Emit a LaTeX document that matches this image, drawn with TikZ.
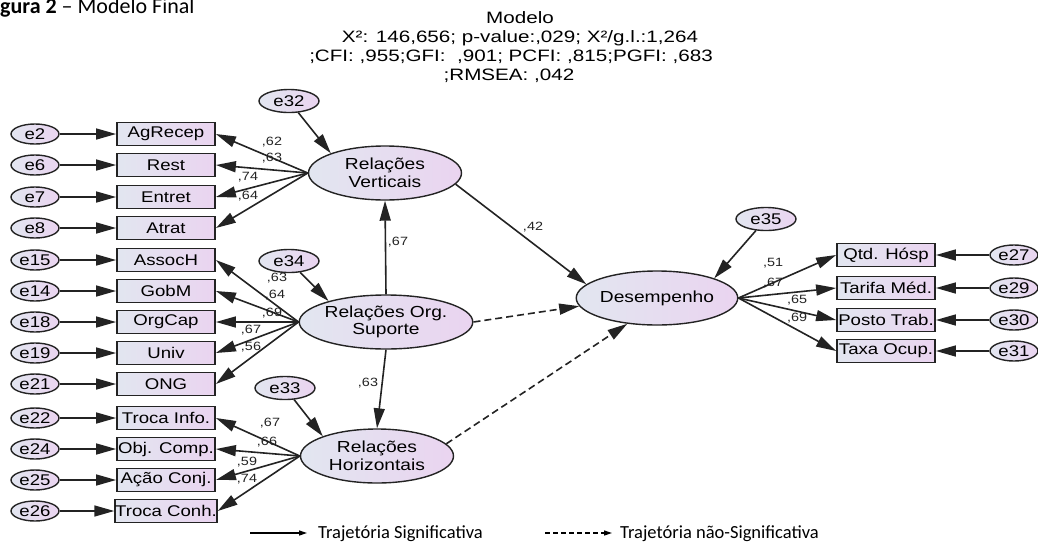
\documentclass[tikz,border=0pt]{standalone}
\usepackage{graphicx}
\usepackage{fontspec}
\setmainfont{Liberation Sans}
\newfontfamily\carl{Carlito}
\usetikzlibrary{arrows.meta,shapes.geometric}
\newcommand\hs[1]{\scalebox{1.2}[1]{#1}}
\newcommand\hh[1]{\scalebox{1.25}[1]{#1}}
\definecolor{lc}{RGB}{226,230,240}
\definecolor{rc}{RGB}{234,212,240}
\definecolor{bd}{RGB}{35,35,35}
\tikzset{
  shd/.style={left color=lc,right color=rc,draw=bd,line width=1.4pt},
  ebox/.style={shd,ellipse,minimum width=48pt,minimum height=20pt,inner sep=0pt,font=\fontsize{15.5}{17}\selectfont},
  bige/.style={ebox,minimum width=60pt,minimum height=23pt},
  obs/.style={shd,rectangle,minimum width=98pt,minimum height=23pt,inner sep=0pt,line width=1.8pt,font=\fontsize{15.5}{17}\selectfont},
  lat/.style={shd,ellipse,minimum width=153pt,minimum height=54pt,inner sep=0pt,align=center,font=\fontsize{16}{17.5}\selectfont},
  arr/.style={-{Triangle[length=20pt,width=11pt]},line width=1.6pt,draw=bd},
  darr/.style={arr,dash pattern=on 7pt off 4pt},
  coef/.style={font=\fontsize{12}{12}\selectfont,inner sep=0pt,text=bd},
  head/.style={font=\fontsize{16.5}{19}\selectfont,inner sep=0pt},
  leg/.style={font=\carl\fontsize{18.5}{20}\selectfont,inner sep=0pt,anchor=west},
}
\begin{document}
\begin{tikzpicture}[x=1pt,y=-1pt]
\useasboundingbox (0,0) rectangle (1038,544);
% title
\node[font=\carl\fontsize{22}{24}\selectfont,anchor=base west,inner sep=0pt] (title) at (0,13) {\textbf{gura 2} – Modelo Final};
% header
\node[head] (h1) at (520,18) {\hh{Modelo}};
\node[head] (h2) at (520,38) {\hh{X²: 146,656; p-value:,029; X²/g.l.:1,264}};
\node[head] (h3) at (511,57) {\hh{;CFI: ,955;GFI:\ \ ,901; PCFI: ,815;PGFI: ,683}};
\node[head] (h4) at (509,76) {\hh{;RMSEA: ,042}};
% left error terms and indicators
\foreach \e/\b/\t/\y in {e2/b1/AgRecep/134, e6/b2/Rest/165, e7/b3/Entret/197, e8/b4/Atrat/228,
  e15/b5/AssocH/260, e14/b6/GobM/291, e18/b7/OrgCap/322, e19/b8/Univ/353, e21/b9/ONG/384,
  e22/b10/Troca Info./418, e24/b11/Obj. Comp./449, e25/b12/Ação Conj./480, e26/b13/Troca Conh./511}{
  \node[ebox] (\e) at (35,\y) {\hs{\e}};
  \node[obs] (\b) at (166,\y) {\hs{\t}};
  \draw[arr] (\e) -- (\b);
}
% right indicators
\foreach \e/\b/\t/\y in {e27/r1/Qtd. Hósp/255, e29/r2/Tarifa Méd./288, e30/r3/Posto Trab./320, e31/r4/Taxa Ocup./351}{
  \node[ebox] (\e) at (1014,\y) {\hs{\e}};
  \node[obs] (\b) at (886,\y) {\hs{\t}};
  \draw[arr] (\e) -- (\b);
}
% latent variables
\node[lat] (RV) at (385,173) {\hs{Relações}\\\hs{Verticais}};
\node[lat] (RS) at (386,322) {\hs{Relações Org.}\\\hs{Suporte}};
\node[lat] (RH) at (377,456) {\hs{Relações}\\\hs{Horizontais}};
\node[lat] (D) at (657,298) {\hs{Desempenho}};
\node[bige] (e32) at (289,101) {\hs{e32}};
\node[bige] (e34) at (289,261) {\hs{e34}};
\node[bige] (e33) at (285,388) {\hs{e33}};
\node[bige] (e35) at (766,219) {\hs{e35}};
% loadings
\foreach \b in {b1,b2,b3,b4} \draw[arr] (RV.west) -- (\b.east);
\foreach \b in {b5,b6,b7,b8,b9} \draw[arr] (RS.west) -- (\b.east);
\foreach \b in {b10,b11,b12,b13} \draw[arr] (RH.west) -- (\b.east);
\foreach \b in {r1,r2,r3,r4} \draw[arr] (D.east) -- (\b.west);
% disturbances
\draw[arr] (e32) -- (RV.160);
\draw[arr] (e34) -- (RS.160);
\draw[arr] (e33) -- (RH.160);
\draw[arr] (e35) -- (D.19);
% structural paths
\draw[arr] (RS.north) -- (RV.south);
\draw[arr] (RS.south) -- (RH.north);
\draw[arr] (RV.-9) -- (D.169);
\draw[darr] (RS.east) -- (D.186);
\draw[darr] (RH.10) -- (D.221);
% coefficients
\foreach \n/\v/\x/\y in {c1/{,62}/272/142, c2/{,63}/272/158, c3/{,74}/248/177, c4/{,64}/248/196,
  c5/{,63}/277/278, c6/{,64}/275/295, c7/{,69}/272/313, c8/{,67}/251/330, c9/{,56}/251/347,
  c10/{,67}/270/423, c11/{,66}/267/442, c12/{,59}/247/462, c13/{,74}/247/479,
  c14/{,67}/398/242, c15/{,42}/533/227, c16/{,63}/368/383,
  c17/{,51}/773/263, c18/{,67}/773/283, c19/{,65}/797/300, c20/{,69}/797/318}
  \node[coef] (\n) at (\x,\y) {\hs{\v}};
% legend
\coordinate (ls1) at (250,533);
\coordinate (ls2) at (307,533);
\coordinate (ld1) at (545,533);
\coordinate (ld2) at (612,533);
\draw[-{Triangle[length=8pt,width=5pt]},line width=1.3pt] (ls1) -- (ls2);
\draw[-{Triangle[length=8pt,width=5pt]},line width=1.3pt,dash pattern=on 5pt off 3pt] (ld1) -- (ld2);
\node[leg] (lt1) at (318,534) {Trajetória Significativa};
\node[leg] (lt2) at (620,534) {Trajetória não-Significativa};
\end{tikzpicture}
\end{document}
